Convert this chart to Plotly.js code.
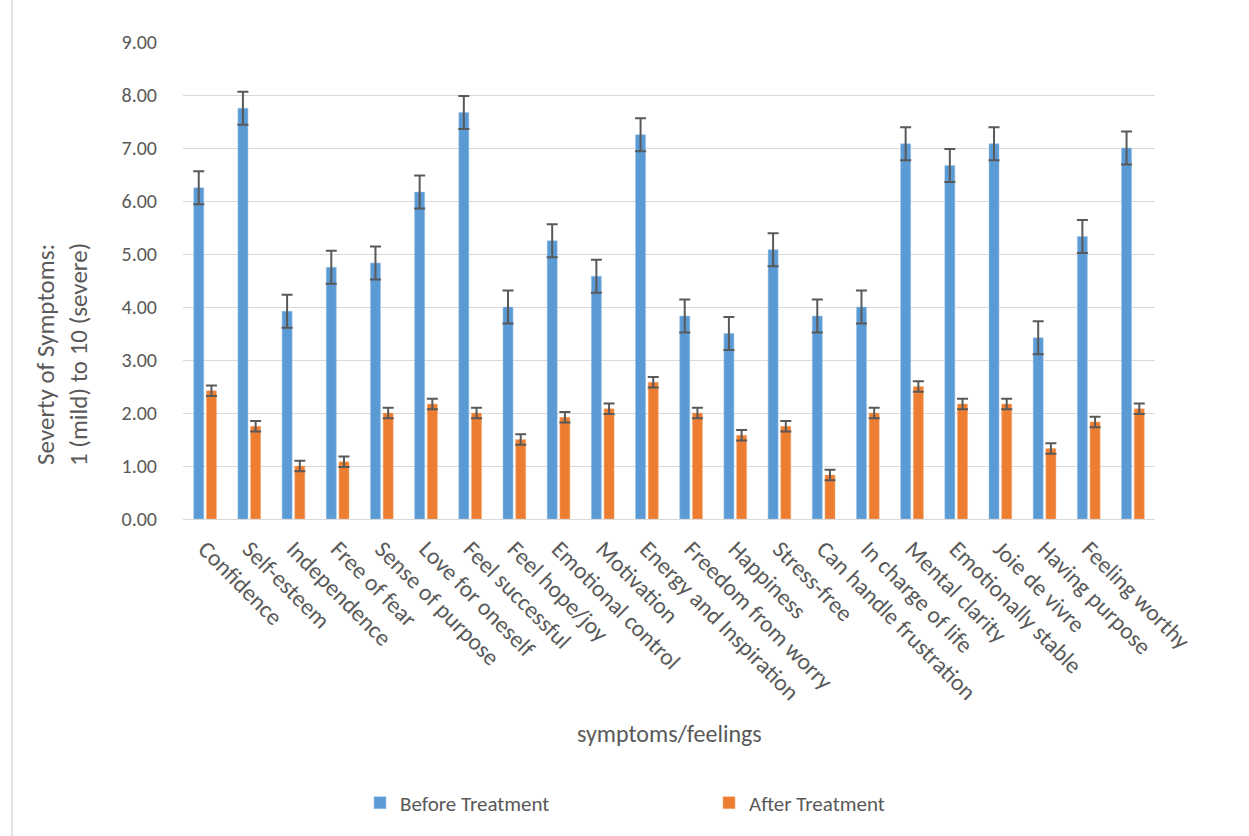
<!DOCTYPE html>
<html>
<head>
<meta charset="utf-8">
<script src="https://cdn.plot.ly/plotly-3.0.1.min.js"></script>
<style>
html,body{margin:0;padding:0;background:#fff;}
#chart{width:1249px;height:836px;}
</style>
</head>
<body>
<div id="chart"></div>
<script>
// Category labels (the 22nd bar group has no label in the source chart)
const categories = ["Confidence","Self-esteem","Independence","Free of fear","Sense of purpose","Love for oneself","Feel successful","Feel hope/joy","Emotional control","Motivation","Energy and Inspiration","Freedom from worry","Happiness","Stress-free","Can handle frustration","In charge of life","Mental clarity","Emotionally stable","Joie de vivre","Having purpose","Feeling worthy",""];
const beforeValues = [6.25,7.75,3.92,4.75,4.83,6.17,7.67,4.00,5.25,4.58,7.25,3.83,3.50,5.08,3.83,4.00,7.08,6.67,7.08,3.42,5.33,7.00];
const afterValues  = [2.42,1.75,1.00,1.08,2.00,2.17,2.00,1.50,1.92,2.08,2.58,2.00,1.58,1.75,0.83,2.00,2.50,2.17,2.17,1.33,1.83,2.08];
const beforeErr = [0.31,0.31,0.31,0.31,0.31,0.31,0.31,0.31,0.31,0.31,0.31,0.31,0.31,0.31,0.31,0.31,0.31,0.31,0.31,0.31,0.31,0.31];
const afterErr  = [0.10,0.10,0.10,0.10,0.10,0.10,0.10,0.10,0.10,0.10,0.10,0.10,0.10,0.10,0.10,0.10,0.10,0.10,0.10,0.10,0.10,0.10];
const seriesNames = ["Before Treatment","After Treatment"];
const yTickVals = [0,1,2,3,4,5,6,7,8,9];

const xIdx = categories.map((_, i) => i);
const FONT = "Carlito, Calibri, Lato, 'Noto Sans', sans-serif";
const TXT = "#595959";

const errStyle = (arr) => ({type:"data", array:arr, visible:true, color:"#595959", thickness:2, width:5.5});

const traces = [
  {type:"bar", name:seriesNames[0], x:xIdx, y:beforeValues, error_y:errStyle(beforeErr),
   marker:{color:"#5B9BD5", line:{color:"#9DC3E6", width:0.5}}},
  {type:"bar", name:seriesNames[1], x:xIdx, y:afterValues, error_y:errStyle(afterErr),
   marker:{color:"#ED7D31", line:{color:"#F4B183", width:0.5}}}
];

const ml = 183, mr = 94, mt = 42, mb = 317;
const pw = 1249 - ml - mr;
const ph = 836 - mt - mb;

const layout = {
  width:1249, height:836,
  margin:{l:ml, r:mr, t:mt, b:mb, pad:0},
  paper_bgcolor:"#fff", plot_bgcolor:"#fff",
  font:{family:FONT, color:TXT, size:20},
  barmode:"group", bargap:0.425, bargroupgap:0.21,
  showlegend:true,
  legend:{orientation:"h", x:(360-ml)/pw, xanchor:"left", y:-(803-519)/ph, yanchor:"middle",
          entrywidth:304, entrywidthmode:"pixels", font:{family:FONT, size:21, color:TXT},
          itemwidth:30, bgcolor:"rgba(0,0,0,0)"},
  xaxis:{
    type:"linear", range:[-0.5, categories.length-0.5],
    tickmode:"array", tickvals:xIdx, ticktext:categories,
    tickangle:45, tickfont:{family:FONT, size:23.5, color:TXT},
    showgrid:false, zeroline:false, showline:true, linecolor:"#D9D9D9", linewidth:1,
    ticks:"", ticklabelstandoff:6
  },
  yaxis:{
    range:[0,9], tickmode:"array", tickvals:yTickVals, tickformat:".2f",
    tickfont:{family:FONT, size:20, color:TXT},
    showgrid:true, gridcolor:"#D9D9D9", gridwidth:1,
    zeroline:true, zerolinecolor:"#D9D9D9", zerolinewidth:1,
    showline:false, ticks:"", ticklabelstandoff:25
  },
  annotations:[{
    text:"Severty of Symptoms:<br>1 (mild) to 10 (severe)",
    textangle:-90, xref:"paper", yref:"paper",
    x:(62-ml)/pw, y:(519-355)/ph, xanchor:"center", yanchor:"middle",
    showarrow:false, font:{family:FONT, size:25, color:TXT}, align:"center"
  },{
    text:"symptoms/feelings", xref:"paper", yref:"paper",
    x:(669-ml)/pw, y:-(733-519)/ph, xanchor:"center", yanchor:"middle",
    showarrow:false, font:{family:FONT, size:24, color:TXT}
  }],
  shapes:[{type:"line", xref:"paper", yref:"paper", x0:(12-ml)/pw, x1:(12-ml)/pw, y0:-(836-519)/ph, y1:(519+10)/ph,
           line:{color:"#D9D9D9", width:1.5}}]
};

Plotly.newPlot("chart", traces, layout, {displayModeBar:false, staticPlot:true});
</script>
</body>
</html>
